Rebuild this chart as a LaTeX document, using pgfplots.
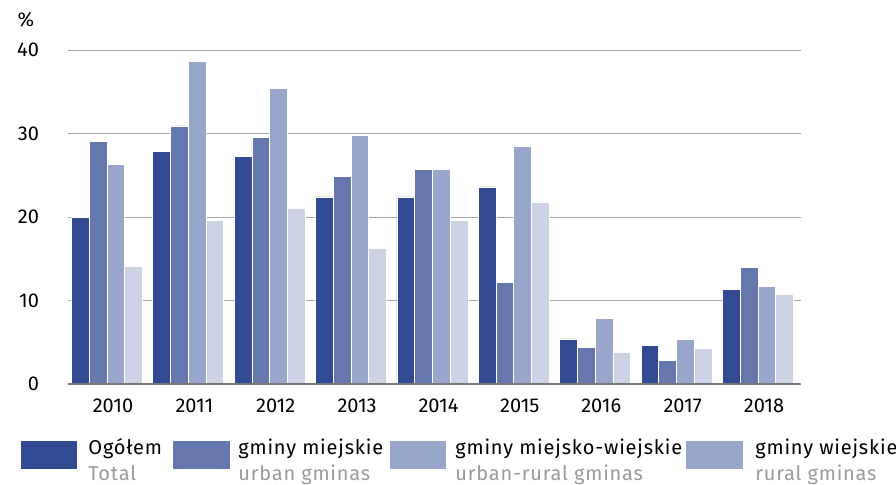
\documentclass[border=0pt]{standalone}
\usepackage{fontspec}
\setmainfont{Fira Sans}
\newfontfamily\legfont[LetterSpace=4.0]{Fira Sans}
\usepackage{pgfplots}
\pgfplotsset{compat=1.18}
\definecolor{cA}{HTML}{324A92}
\definecolor{cB}{HTML}{6677AD}
\definecolor{cC}{HTML}{99A6CB}
\definecolor{cD}{HTML}{CDD3E5}
\definecolor{gridc}{HTML}{A5A5A5}
\definecolor{axc}{HTML}{777777}
\definecolor{txtgray}{HTML}{9A9A9A}
\begin{document}
\fontsize{10pt}{12pt}\selectfont
\begin{tikzpicture}
\useasboundingbox (-34pt,-50pt) rectangle (414pt,192pt);
\begin{axis}[
  at={(0,0)}, anchor=south west,
  scale only axis, width=366.35pt, height=167pt,
  ybar=0pt, bar width=0.218,
  xmin=-0.479, xmax=8.525, ymin=0, ymax=40,
  enlargelimits=false,
  xtick={0,...,8},
  xticklabels={2010,2011,2012,2013,2014,2015,2016,2017,2018},
  ytick={0,10,20,30,40},
  major tick length=0pt,
  axis x line*=bottom, axis y line*=left,
  y axis line style={draw=none},
  x axis line style={draw=none},
  ymajorgrids, grid style={draw=gridc, line width=0.5pt},
  /pgf/number format/assume math mode=true,
  tick label style={font=\fontsize{10pt}{12pt}\selectfont},
  yticklabel style={anchor=east, xshift=-11pt},
  xticklabel style={yshift=-4pt, xshift=3pt},
  every axis plot/.append style={draw=white, line width=0.4pt},
]
\addplot[fill=cA] coordinates {(0,19.9) (1,27.9) (2,27.3) (3,22.4) (4,22.4) (5,23.6) (6,5.4) (7,4.6) (8,11.3)};
\addplot[fill=cB] coordinates {(0,29.1) (1,30.9) (2,29.5) (3,24.9) (4,25.7) (5,12.2) (6,4.4) (7,2.8) (8,14.0)};
\addplot[fill=cC] coordinates {(0,26.3) (1,38.6) (2,35.4) (3,29.8) (4,25.7) (5,28.4) (6,7.8) (7,5.3) (8,11.7)};
\addplot[fill=cD] coordinates {(0,14.1) (1,19.6) (2,21.0) (3,16.2) (4,19.6) (5,21.8) (6,3.8) (7,4.3) (8,10.7)};
\draw[axc, line width=0.8pt] (rel axis cs:0,0) -- (rel axis cs:1,0);
\end{axis}
\node[anchor=base, inner sep=0pt] at (-21pt,179pt) {\%};
% legend
\fill[cA] (-23.5pt,-28.5pt) rectangle (4.5pt,-42.5pt);
\fill[cB] (52.5pt,-28.5pt) rectangle (81pt,-42.5pt);
\fill[cC] (161pt,-28.5pt) rectangle (189pt,-42.5pt);
\fill[cC] (309pt,-28.5pt) rectangle (337.5pt,-42.5pt);
\begin{scope}[every node/.style={anchor=base west, inner sep=0pt, font=\legfont\fontsize{10pt}{12pt}\selectfont}]
\node at (10pt,-35pt) {Ogółem};
\node[text=txtgray] at (10pt,-48pt) {Total};
\node at (85pt,-35pt) {gminy miejskie};
\node[text=txtgray] at (85pt,-48pt) {urban gminas};
\node at (193.5pt,-35pt) {gminy miejsko-wiejskie};
\node[text=txtgray] at (193.5pt,-48pt) {urban-rural gminas};
\node at (343.5pt,-35pt) {gminy wiejskie};
\node[text=txtgray] at (343.5pt,-48pt) {rural gminas};
\end{scope}
\end{tikzpicture}
\end{document}
